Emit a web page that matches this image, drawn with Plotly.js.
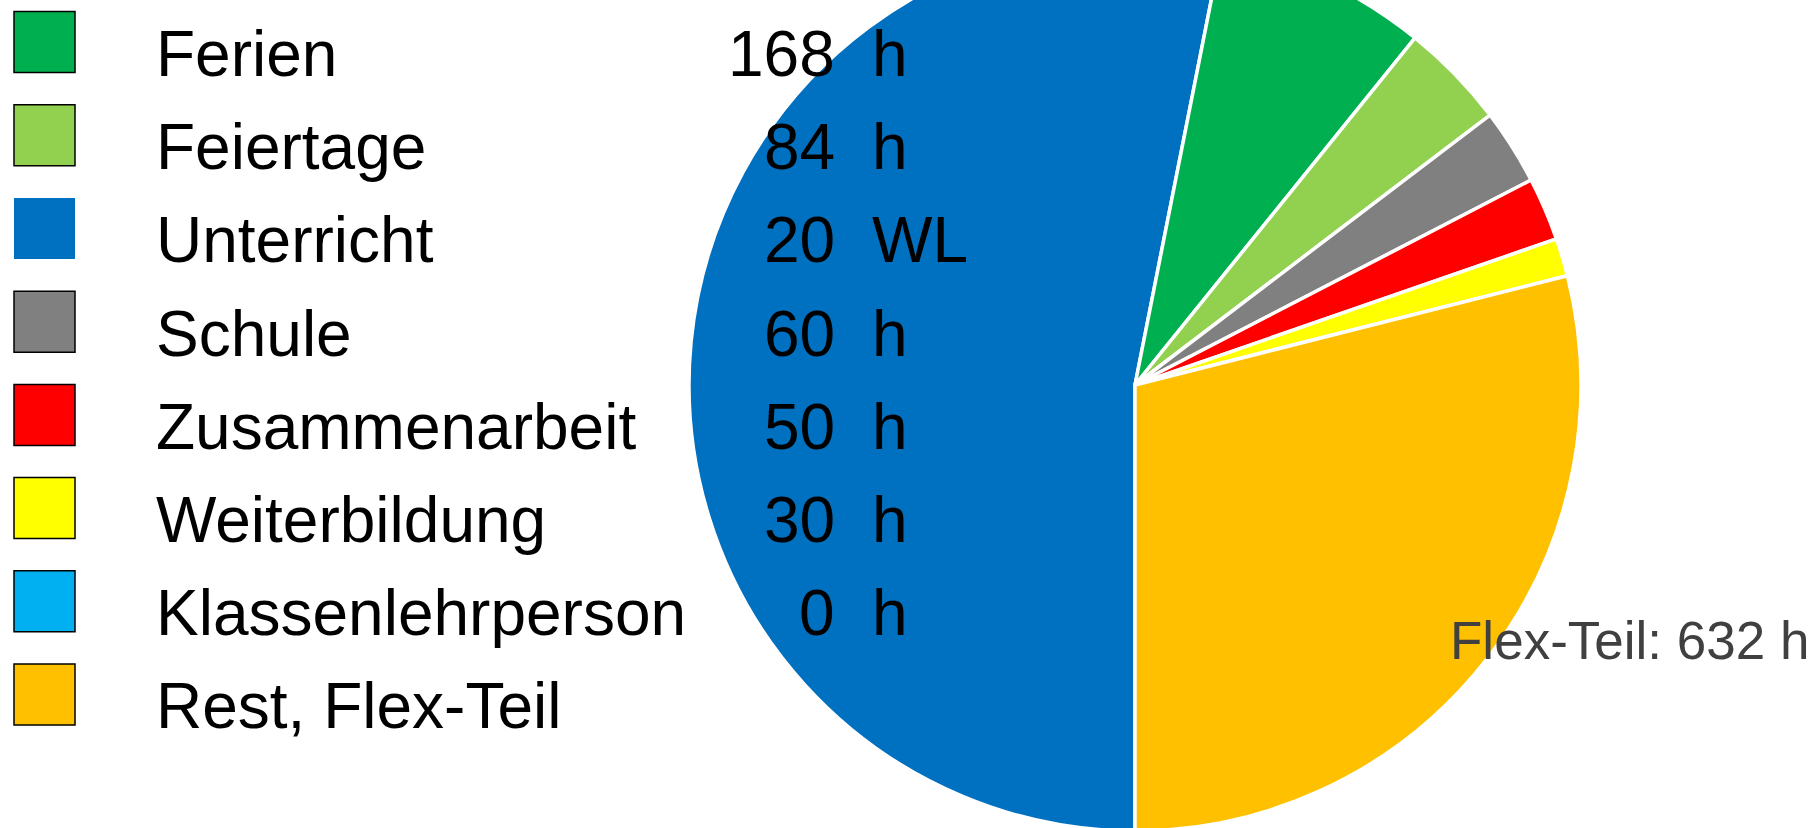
<!DOCTYPE html>
<html>
<head>
<meta charset="utf-8">
<script src="https://cdn.plot.ly/plotly-3.0.1.min.js"></script>
<style>
  html, body { margin: 0; padding: 0; width: 1814px; height: 828px; overflow: hidden; background: #fff; }
  #wrap { position: relative; width: 1814px; height: 828px; overflow: hidden; }
  #chart { position: absolute; left: 0; top: -61px; width: 1814px; height: 892px; }
</style>
</head>
<body>
<div id="wrap"><div id="chart"></div></div>
<script>
// ---- data (legend order) ----
const categories = ["Ferien", "Feiertage", "Unterricht", "Schule", "Zusammenarbeit", "Weiterbildung", "Klassenlehrperson", "Rest, Flex-Teil"];
const legendValues = ["168", "84", "20", "60", "50", "30", "0", ""];
const legendUnits = ["h", "h", "WL", "h", "h", "h", "h", ""];
const hours = [168, 84, 1160, 60, 50, 30, 0, 632];
const colors = ["#00B050", "#92D050", "#0070C0", "#808080", "#FF0000", "#FFFF00", "#00B0F0", "#FFC000"];
// order of slices in the pie (clockwise, starting at 6 o'clock)
const pieOrder = [2, 0, 1, 3, 4, 5, 6, 7];
const flexLabel = "Flex-Teil: 632 h";

// ---- geometry helpers ----
const W = 1814, H = 892, TOP = -61;
const px = x => x / W;
const py = y => 1 - (y - TOP) / H;
const FONT = "Liberation Sans, Arial, sans-serif";
const R = 446, CX = 1135;

const pieTrace = {
  type: "pie",
  labels: pieOrder.map(i => categories[i]),
  values: pieOrder.map(i => hours[i]),
  marker: { colors: pieOrder.map(i => colors[i]), line: { color: "#ffffff", width: 3.5 } },
  sort: false,
  direction: "clockwise",
  rotation: 180,
  textinfo: "none",
  hoverinfo: "label+value",
  showlegend: false,
  domain: { x: [px(CX - R), px(CX + R)], y: [0, 1] }
};

const shapes = [];
const annotations = [];
const rowStep = 93.2;
categories.forEach((c, i) => {
  const top = 11.6 + i * rowStep;
  shapes.push({
    type: "rect", xref: "paper", yref: "paper",
    x0: px(14), x1: px(75), y0: py(top + 61), y1: py(top),
    fillcolor: colors[i],
    line: { color: "#000000", width: i === 2 ? 0 : 1.5 }
  });
  const cy = 54 + i * rowStep;
  annotations.push({
    xref: "paper", yref: "paper", x: px(154), y: py(cy), xanchor: "left", yanchor: "middle",
    text: c, showarrow: false, font: { family: FONT, size: 64, color: "#000000" }
  });
  if (legendValues[i] !== "") {
    annotations.push({
      xref: "paper", yref: "paper", x: px(837), y: py(cy), xanchor: "right", yanchor: "middle",
      text: legendValues[i], showarrow: false, font: { family: FONT, size: 64, color: "#000000" }
    });
    annotations.push({
      xref: "paper", yref: "paper", x: px(870), y: py(cy), xanchor: "left", yanchor: "middle",
      text: legendUnits[i], showarrow: false, font: { family: FONT, size: 64, color: "#000000" }
    });
  }
});
annotations.push({
  xref: "paper", yref: "paper", x: px(1811), y: py(640), xanchor: "right", yanchor: "middle",
  text: flexLabel, showarrow: false, font: { family: FONT, size: 53, color: "#404040" }
});

const layout = {
  width: W, height: H,
  margin: { l: 0, r: 0, t: 0, b: 0, pad: 0 },
  paper_bgcolor: "#ffffff",
  showlegend: false,
  shapes: shapes,
  annotations: annotations,
  font: { family: FONT }
};

Plotly.newPlot("chart", [pieTrace], layout, { displayModeBar: false, staticPlot: true });
</script>
</body>
</html>
